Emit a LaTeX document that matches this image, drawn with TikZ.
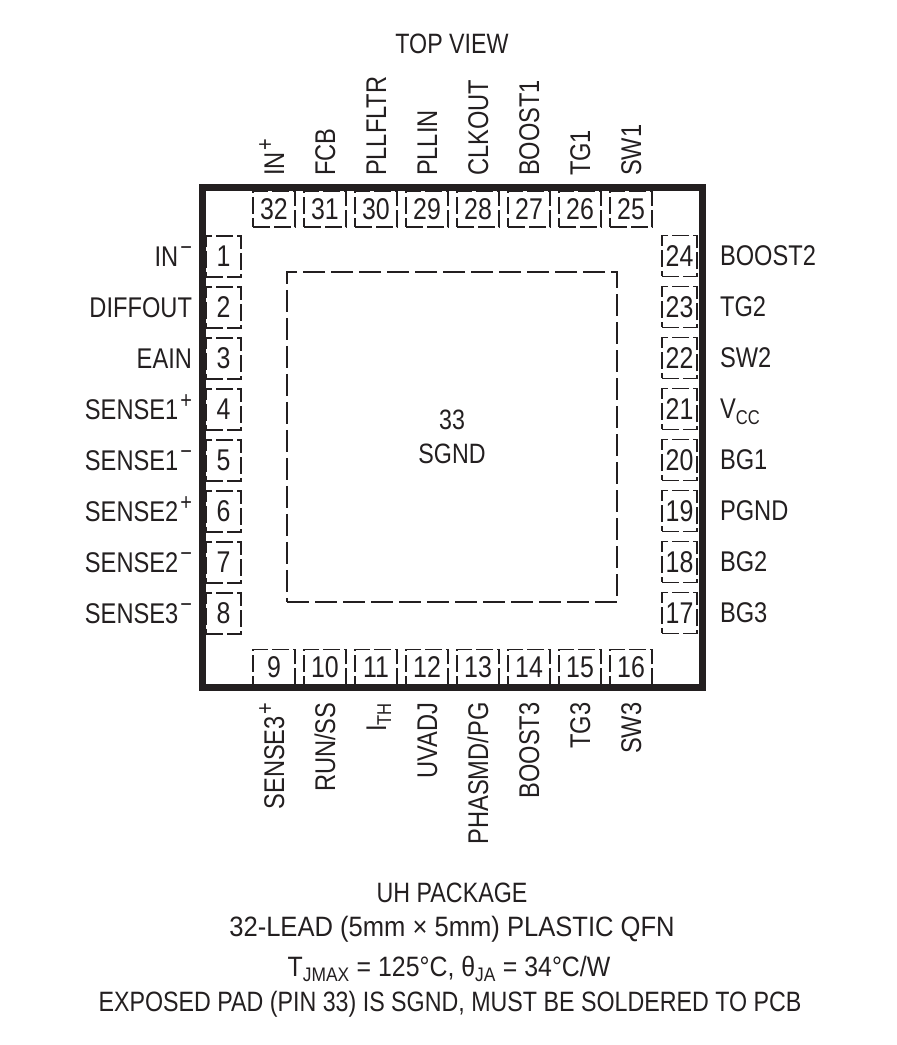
\documentclass[tikz,border=0pt]{standalone}
\usepackage{fontspec}
\setmainfont[FakeStretch=0.83]{Liberation Sans}
\usetikzlibrary{positioning}
\definecolor{pinInk}{HTML}{231F20}
\tikzset{
  chipbody/.style={draw=pinInk, line width=7pt, minimum width=500.5pt, minimum height=500.5pt, inner sep=0pt},
  padbox/.style={draw=pinInk, line width=1.7pt, dash pattern=on 22pt off 6pt, minimum width=330pt, minimum height=330pt, align=center, text=pinInk, font=\fontsize{28}{34}\selectfont},
  pinbase/.style={draw=pinInk, line width=1.7pt, dash pattern=on 17pt off 4pt, inner sep=0pt, text=pinInk, font=\fontsize{30}{32}\selectfont, text height=21pt, text depth=0pt},
  pinside/.style={pinbase, minimum width=35pt, minimum height=41pt},
  pinrow/.style={pinbase, minimum width=42pt, minimum height=36pt},
  pinlabel/.style={inner sep=0pt, text=pinInk, font=\fontsize{28.5}{30}\selectfont, text height=20pt, text depth=0pt},
  notetext/.style={pinlabel, anchor=center, font=\fontsize{28}{30}\selectfont}
}
\newcommand{\sgup}[1]{\hspace{2pt}\raisebox{11pt}{\fontsize{24}{24}\selectfont #1}}
\begin{document}
\begin{tikzpicture}[x=1pt, y=1pt]
  \useasboundingbox (0,0) rectangle (897,1045);
  % left side
  \foreach \n/\lab in {1/IN\sgup{−}, 2/DIFFOUT, 3/EAIN, 4/SENSE1\sgup{+}, 5/SENSE1\sgup{−}, 6/SENSE2\sgup{+}, 7/SENSE2\sgup{−}, 8/SENSE3\sgup{−}} {
    \node[pinside] (pin\n) at (223.5, 788.5-51*\n+51) {\n};
    \node[pinlabel, left=13pt of pin\n] (lab\n) {\lab};
  }
  % right side
  \foreach \n/\lab in {17/BG3, 18/BG2, 19/PGND, 20/BG1, 21/V\textsubscript{CC}, 22/SW2, 23/TG2, 24/BOOST2} {
    \node[pinside] (pin\n) at (679.5, 432+51*\n-867) {\n};
    \node[pinlabel, right=22pt of pin\n] (lab\n) {\lab};
  }
  % bottom row
  \foreach \n/\lab in {9/SENSE3\sgup{+}, 10/{RUN/SS}, 11/I\textsubscript{TH}, 12/UVADJ, 13/{PHASMD/PG}, 14/BOOST3, 15/TG3, 16/SW3} {
    \node[pinrow] (pin\n) at (274+51*\n-459, 377.5) {\n};
    \node[pinlabel, below=16pt of pin\n, rotate=90, anchor=east] (lab\n) {\lab};
  }
  % top row
  \foreach \n/\lab in {25/SW1, 26/TG1, 27/BOOST1, 28/CLKOUT, 29/PLLIN, 30/PLLFLTR, 31/FCB, 32/IN\sgup{+}} {
    \node[pinrow] (pin\n) at (274+51*32-51*\n, 836) {\n};
    \node[pinlabel, above=14pt of pin\n, rotate=90, anchor=west] (lab\n) {\lab};
  }
  \node[padbox] (pad) at (452, 608) {33\\SGND};
  \node[chipbody] (chip) at (452.25, 607.25) {};
  % heading and notes
  \node[notetext] (topview) at (452, 1001) {TOP VIEW};
  \node[notetext] (pkgname) at (452, 152) {UH PACKAGE};
  \node[notetext] (pkgsize) at (452, 118) {\scalebox{1.1}[1]{32-LEAD (5mm × 5mm) PLASTIC QFN}};
  \node[notetext] (thermal) at (449, 78) {\scalebox{1.07}[1]{T\textsubscript{JMAX} = 125°C, θ\textsubscript{JA} = 34°C/W}};
  \node[notetext] (padnote) at (450, 44) {EXPOSED PAD (PIN 33) IS SGND, MUST BE SOLDERED TO PCB};
\end{tikzpicture}
\end{document}
